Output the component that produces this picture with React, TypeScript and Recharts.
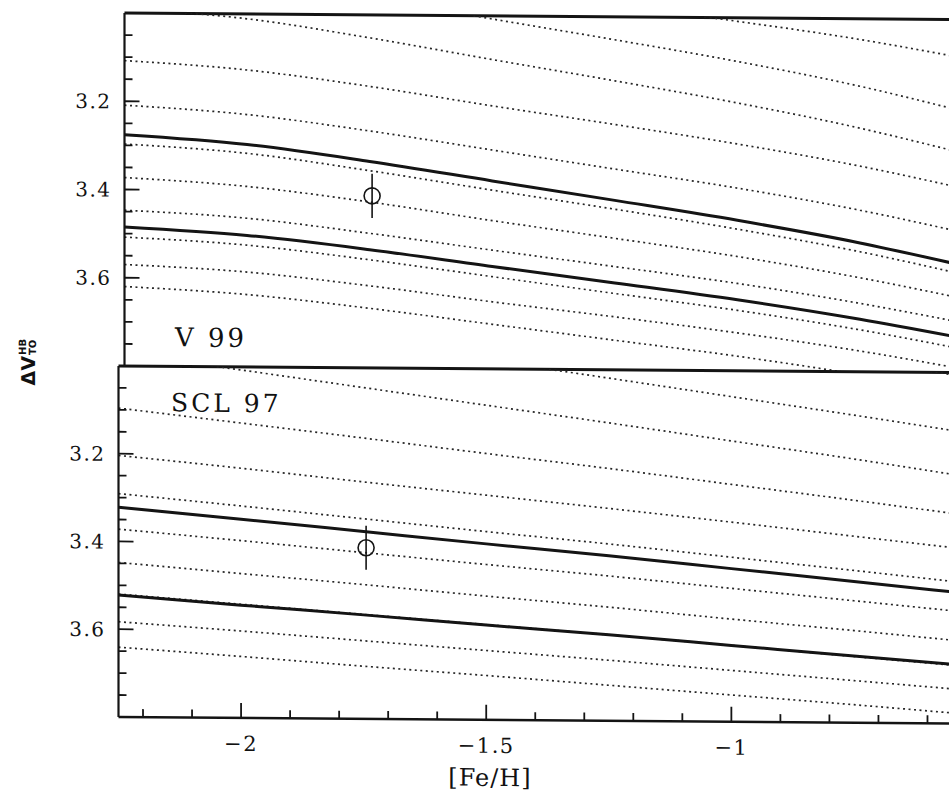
import React from 'react';
import { ComposedChart, Line, XAxis, YAxis, Scatter, ErrorBar, ReferenceLine } from 'recharts';

// [Fe/H] sample positions shared by every curve
const feH = [-2.25, -2.0, -1.75, -1.5, -1.25, -1.0, -0.75, -0.55];

// ---- V 99 panel: dotted isochrones (Delta V values at feH) ----
const v99Iso1 = [2.862, 2.877, 2.907, 2.941, 2.974, 3.008, 3.047, 3.085];
const v99Iso2 = [2.899, 2.92, 2.96, 3.007, 3.052, 3.099, 3.153, 3.205];
const v99Iso3 = [2.99, 3.011, 3.052, 3.099, 3.145, 3.193, 3.248, 3.3];
const v99Iso4 = [3.108, 3.127, 3.162, 3.204, 3.244, 3.286, 3.334, 3.38];
const v99Iso5 = [3.209, 3.228, 3.263, 3.304, 3.345, 3.386, 3.434, 3.48];
const v99Iso6 = [3.297, 3.316, 3.353, 3.395, 3.436, 3.479, 3.528, 3.575];
const v99Iso7 = [3.373, 3.391, 3.424, 3.464, 3.502, 3.541, 3.587, 3.63];
const v99Iso8 = [3.447, 3.463, 3.495, 3.531, 3.566, 3.602, 3.645, 3.685];
const v99Iso9 = [3.508, 3.524, 3.555, 3.591, 3.627, 3.663, 3.705, 3.745];
const v99Iso10 = [3.57, 3.585, 3.614, 3.648, 3.68, 3.714, 3.753, 3.79];
const v99Iso11 = [3.62, 3.636, 3.665, 3.699, 3.733, 3.767, 3.807, 3.845];
// solid curves
const v99Solid1 = [3.276, 3.296, 3.332, 3.374, 3.416, 3.459, 3.508, 3.555];
const v99Solid2 = [3.485, 3.502, 3.532, 3.568, 3.603, 3.639, 3.681, 3.72];

// ---- SCL 97 panel ----
const sclIso1 = [2.74, 2.777, 2.816, 2.854, 2.892, 2.932, 2.972, 3.005];
const sclIso2 = [2.866, 2.903, 2.942, 2.98, 3.019, 3.059, 3.099, 3.132];
const sclIso3 = [2.97, 3.007, 3.045, 3.083, 3.121, 3.16, 3.199, 3.232];
const sclIso4 = [3.096, 3.128, 3.16, 3.193, 3.225, 3.259, 3.293, 3.321];
const sclIso5 = [3.204, 3.231, 3.26, 3.288, 3.316, 3.345, 3.375, 3.399];
const sclIso6 = [3.291, 3.317, 3.344, 3.371, 3.397, 3.425, 3.453, 3.476];
const sclIso7 = [3.372, 3.396, 3.421, 3.446, 3.47, 3.496, 3.522, 3.543];
const sclIso8 = [3.448, 3.471, 3.494, 3.518, 3.541, 3.566, 3.59, 3.61];
const sclIso9 = [3.52, 3.541, 3.562, 3.583, 3.604, 3.626, 3.649, 3.667];
const sclIso10 = [3.583, 3.602, 3.622, 3.642, 3.662, 3.683, 3.704, 3.721];
const sclIso11 = [3.641, 3.66, 3.68, 3.699, 3.719, 3.739, 3.759, 3.776];
const sclSolid1 = [3.322, 3.347, 3.373, 3.399, 3.424, 3.451, 3.478, 3.5];
const sclSolid2 = [3.522, 3.543, 3.563, 3.584, 3.604, 3.626, 3.648, 3.665];

// cluster measurement
const clusterFeH = [-1.745];
const clusterDV = [3.41];
const clusterErr = [0.05];

// ticks
const yMajorTicks = [3.2, 3.4, 3.6];
const yAllTicks = [3.05, 3.1, 3.15, 3.2, 3.25, 3.3, 3.35, 3.4, 3.45, 3.5, 3.55, 3.6, 3.65, 3.7, 3.75];
const xMajorTicks = [-2, -1.5, -1];
const xMajorLabels = ['\u22122', '\u22121.5', '\u22121'];
const xAllTicks = [-2.2, -2.1, -2.0, -1.9, -1.8, -1.7, -1.6, -1.5, -1.4, -1.3, -1.2, -1.1, -1.0, -0.9, -0.8, -0.7, -0.6];

const toSeries = (ys: number[]) => feH.map((x, i) => ({ x, y: ys[i] }));
const clusterData = clusterFeH.map((x, i) => ({ x, y: clusterDV[i], err: clusterErr[i] }));

const v99Dotted = [v99Iso1, v99Iso2, v99Iso3, v99Iso4, v99Iso5, v99Iso6, v99Iso7, v99Iso8, v99Iso9, v99Iso10, v99Iso11];
const v99SolidSet = [v99Solid1, v99Solid2];
const sclDotted = [sclIso1, sclIso2, sclIso3, sclIso4, sclIso5, sclIso6, sclIso7, sclIso8, sclIso9, sclIso10, sclIso11];
const sclSolidSet = [sclSolid1, sclSolid2];

const INK = '#141414';
const SERIF = '"DejaVu Serif", serif';

const isIn = (arr: number[], v: number) => arr.findIndex((m) => Math.abs(m - v) < 1e-6);

const YTick = (props: any) => {
  const { x, y, payload } = props;
  const v = payload.value as number;
  const major = isIn(yMajorTicks, v) >= 0;
  return (
    <g>
      <line x1={x} x2={x + (major ? 15 : 8)} y1={y} y2={y} stroke={INK} strokeWidth={1.8} />
      {major && (
        <text x={x - 13} y={y} dy="0.36em" textAnchor="end" fontFamily={SERIF} fontSize={20} letterSpacing={1.5} fill="#111">
          {v.toFixed(1)}
        </text>
      )}
    </g>
  );
};

const XTick = (props: any) => {
  const { x, y, payload } = props;
  const v = payload.value as number;
  const idx = isIn(xMajorTicks, v);
  const major = idx >= 0;
  return (
    <g>
      <line x1={x} x2={x} y1={y} y2={y - (major ? 15 : 8)} stroke={INK} strokeWidth={1.8} />
      {major && (
        <text x={x} y={y + 33} textAnchor="middle" fontFamily={SERIF} fontSize={21} letterSpacing={1.5} fill="#111">
          {xMajorLabels[idx]}
        </text>
      )}
    </g>
  );
};

const HollowCircle = (props: any) => {
  const { cx, cy } = props;
  return <circle cx={cx} cy={cy} r={8} fill="none" stroke={INK} strokeWidth={1.6} />;
};

const renderCurves = (dotted: number[][], solid: number[][], prefix: string) => [
  ...dotted.map((ys, i) => (
    <Line
      key={`${prefix}d${i}`}
      data={toSeries(ys)}
      dataKey="y"
      type="monotone"
      dot={false}
      activeDot={false}
      stroke="#262626"
      strokeWidth={1.7}
      strokeDasharray="2 3.5"
      isAnimationActive={false}
    />
  )),
  ...solid.map((ys, i) => (
    <Line
      key={`${prefix}s${i}`}
      data={toSeries(ys)}
      dataKey="y"
      type="monotone"
      dot={false}
      activeDot={false}
      stroke={INK}
      strokeWidth={3}
      isAnimationActive={false}
    />
  )),
];

const yAxisProps = {
  type: 'number' as const,
  domain: [3.0, 3.8] as [number, number],
  reversed: true,
  allowDataOverflow: true,
  ticks: yAllTicks,
  interval: 0 as const,
  tickSize: 0,
  tickMargin: 0,
  tickLine: false,
  width: 60,
  axisLine: { stroke: INK, strokeWidth: 2.2 },
  tick: (p: any) => <YTick {...p} />,
};

export default function App() {
  return (
    <div style={{ position: 'fixed', left: 0, top: 0, width: 949, height: 800, overflow: 'hidden', background: '#fff' }}>
      <div style={{ position: 'absolute', left: 0, top: 0, width: 960, height: 800, transform: 'skewY(0.45deg)', transformOrigin: '0 0' }}>
        {/* Top panel: V 99 */}
        <div style={{ position: 'absolute', left: 0, top: 0 }}>
          <ComposedChart width={958} height={368} margin={{ top: 12, right: 0, bottom: 3, left: 64.5 }}>
            <XAxis type="number" dataKey="x" domain={[-2.25, -0.55]} allowDataOverflow hide />
            <YAxis {...yAxisProps} />
            <ReferenceLine y={3.0} stroke={INK} strokeWidth={3} />
            {renderCurves(v99Dotted, v99SolidSet, 'v')}
            <Scatter data={clusterData} dataKey="y" shape={HollowCircle} isAnimationActive={false}>
              <ErrorBar dataKey="err" direction="y" width={0} stroke={INK} strokeWidth={1.6} />
            </Scatter>
          </ComposedChart>
        </div>
        {/* Bottom panel: SCL 97 */}
        <div style={{ position: 'absolute', left: 0, top: 362 }}>
          <ComposedChart width={952} height={437} margin={{ top: 3, right: 0, bottom: 0, left: 58.5 }}>
            <XAxis
              type="number"
              dataKey="x"
              domain={[-2.25, -0.55]}
              allowDataOverflow
              ticks={xAllTicks}
              interval={0}
              tickSize={0}
              tickMargin={0}
              tickLine={false}
              height={83}
              axisLine={{ stroke: INK, strokeWidth: 2.5 }}
              tick={(p: any) => <XTick {...p} />}
            />
            <YAxis {...yAxisProps} />
            <ReferenceLine y={3.0} stroke={INK} strokeWidth={3} />
            {renderCurves(sclDotted, sclSolidSet, 's')}
            <Scatter data={clusterData} dataKey="y" shape={HollowCircle} isAnimationActive={false}>
              <ErrorBar dataKey="err" direction="y" width={0} stroke={INK} strokeWidth={1.6} />
            </Scatter>
          </ComposedChart>
        </div>

        {/* panel labels */}
        <div style={{ position: 'absolute', left: 175, top: 323, fontFamily: SERIF, fontSize: 26, lineHeight: 1, letterSpacing: 3, color: '#111' }}>V 99</div>
        <div style={{ position: 'absolute', left: 171, top: 389, fontFamily: SERIF, fontSize: 25, lineHeight: 1, letterSpacing: 3, color: '#111' }}>SCL 97</div>

        {/* axis titles */}
        <div
          style={{
            position: 'absolute',
            left: 28,
            top: 362,
            transform: 'translate(-50%, -50%) rotate(-90deg)',
            whiteSpace: 'nowrap',
            fontFamily: '"DejaVu Sans", sans-serif',
            fontWeight: 'bold',
            fontSize: 19,
            lineHeight: 1,
            display: 'flex',
            alignItems: 'center',
            color: '#111',
          }}
        >
          <span>ΔV</span>
          <span style={{ display: 'inline-flex', flexDirection: 'column', fontSize: 10, lineHeight: 1, marginLeft: 1 }}>
            <span>HB</span>
            <span>TO</span>
          </span>
        </div>
        <div
          style={{
            position: 'absolute',
            left: 490,
            top: 762,
            transform: 'translateX(-50%)',
            fontFamily: SERIF,
            fontSize: 24,
            lineHeight: 1,
            letterSpacing: 1,
            color: '#111',
            whiteSpace: 'nowrap',
          }}
        >
          [Fe/H]
        </div>
      </div>
    </div>
  );
}
